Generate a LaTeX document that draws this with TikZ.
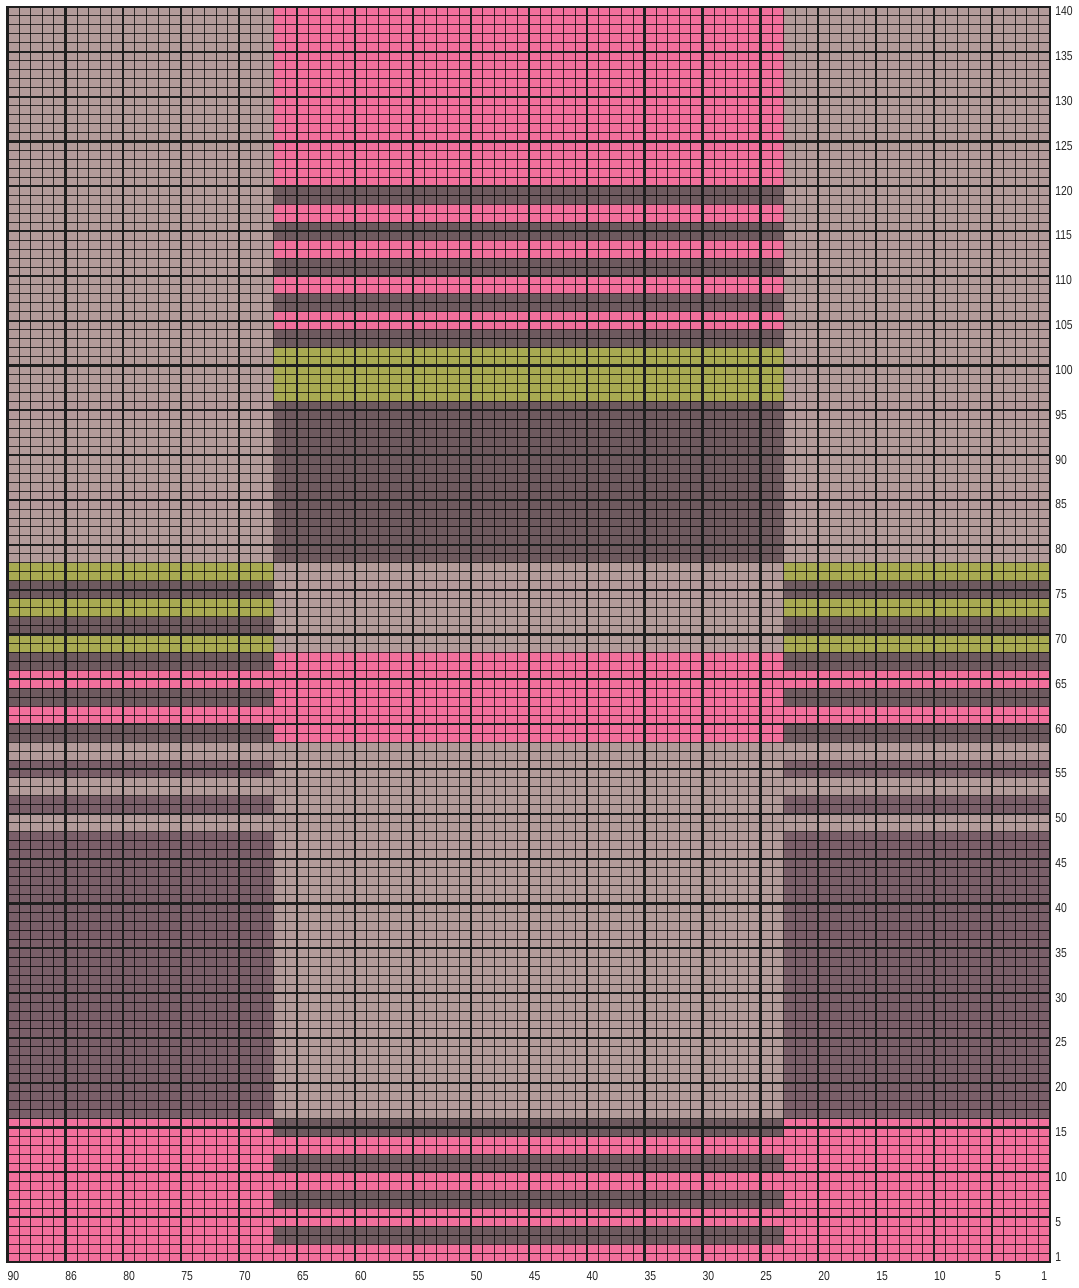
\documentclass[tikz,border=0pt]{standalone}
\usepackage{fontspec}
\newfontfamily\labfont[FakeStretch=0.8]{Liberation Sans}
\definecolor{pinkC}{HTML}{F2709C}
\definecolor{lightC}{HTML}{B39B9A}
\definecolor{darkA}{HTML}{6E5A5F}
\definecolor{darkB}{HTML}{7A5F69}
\definecolor{oliveC}{HTML}{A8AA52}
\begin{document}
\begin{tikzpicture}[x=5.7915pt,y=4.482pt,
  lbl/.style={font=\labfont\fontsize{6.5}{7}\selectfont, inner sep=0pt, text=black!85},
  finegrid/.style={draw=black, draw opacity=0.72, line width=0.45pt},
  heavygrid/.style={draw=black!88, line width=1.1pt}]
\useasboundingbox (-0.6475,-2.9) rectangle (92.42,140.78);
\fill[white] (-0.6475,-2.9) rectangle (92.42,140.78);
% background
\fill[lightC] (0,0) rectangle (90,140);
% side panels
\foreach \xa/\xb in {0/23,67/90}{
  \fill[pinkC] (\xa,0) rectangle (\xb,16);
  \fill[darkB] (\xa,16) rectangle (\xb,48);
  \fill[darkB] (\xa,50) rectangle (\xb,52);
  \fill[darkB] (\xa,54) rectangle (\xb,56);
  \fill[darkA] (\xa,58) rectangle (\xb,60);
  \fill[pinkC] (\xa,60) rectangle (\xb,62);
  \fill[darkA] (\xa,62) rectangle (\xb,64);
  \fill[pinkC] (\xa,64) rectangle (\xb,66);
  \fill[darkA] (\xa,66) rectangle (\xb,68);
  \fill[oliveC] (\xa,68) rectangle (\xb,70);
  \fill[darkA] (\xa,70) rectangle (\xb,72);
  \fill[oliveC] (\xa,72) rectangle (\xb,74);
  \fill[darkA] (\xa,74) rectangle (\xb,76);
  \fill[oliveC] (\xa,76) rectangle (\xb,78);
}
% centre panel
\foreach \ya in {0,4,8,12}{
  \fill[pinkC] (23,\ya) rectangle (67,\ya+2);
  \fill[darkA] (23,\ya+2) rectangle (67,\ya+4);
}
\fill[pinkC] (23,58) rectangle (67,68);
\fill[darkA] (23,78) rectangle (67,96);
\fill[oliveC] (23,96) rectangle (67,102);
\foreach \ya in {102,106,110,114}{
  \fill[darkA] (23,\ya) rectangle (67,\ya+2);
  \fill[pinkC] (23,\ya+2) rectangle (67,\ya+4);
}
\fill[darkA] (23,118) rectangle (67,120);
\fill[pinkC] (23,120) rectangle (67,140);
% fine grid
\foreach \i in {1,...,89} \draw[finegrid] (\i,0) -- (\i,140);
\foreach \j in {1,...,139} \draw[finegrid] (0,\j) -- (90,\j);
% heavy grid
\foreach \i in {5,10,...,85} \draw[heavygrid] (\i,0) -- (\i,140);
\foreach \j in {5,10,...,135} \draw[heavygrid] (0,\j) -- (90,\j);
\draw[heavygrid] (0,0) rectangle (90,140);
% row labels
\node[lbl,anchor=west] (r1) at (90.42,0.5) {1};
\foreach \r in {5,10,...,140} \node[lbl,anchor=west] (r\r) at (90.42,\r-0.5) {\r};
% column labels
\foreach \t/\xx in {90/0.5,86/5.5,80/10.5,75/15.5,70/20.5,65/25.5,60/30.5,55/35.5,50/40.5,45/45.5,40/50.5,35/55.5,30/60.5,25/65.5,20/70.5,15/75.5,10/80.5,5/85.5,1/89.5}
  \node[lbl] (c\t) at (\xx,-1.6) {\t};
\end{tikzpicture}
\end{document}
